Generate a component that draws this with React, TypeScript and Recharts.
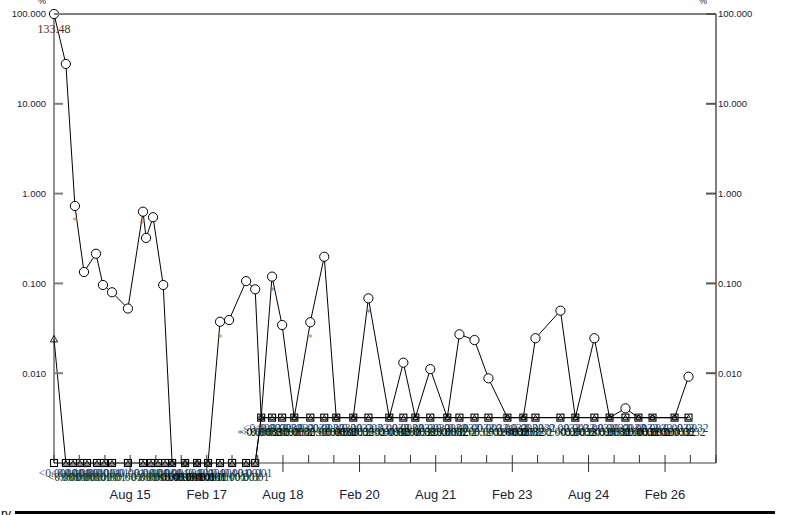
import { ComposedChart, Line, XAxis, YAxis, ReferenceLine } from 'recharts';

// dates of the samples where the square / triangle parameters were measured
const sampleDates = [
  '2014-02-01', '2014-04-27', '2014-06-17', '2014-08-07', '2014-09-26', '2014-12-06', '2015-01-25',
  '2015-03-24', '2015-07-16', '2015-11-01', '2015-12-28', '2016-02-17', '2016-04-08', '2016-05-28',
  '2016-08-29', '2016-11-23', '2017-02-10', '2017-05-07', '2017-08-02', '2017-11-10', '2018-01-14',
  '2018-02-26', '2018-05-15', '2018-07-26', '2018-10-21', '2019-02-13', '2019-05-24', '2019-08-18',
  '2019-12-18', '2020-04-05', '2020-09-02', '2020-12-12', '2021-03-08', '2021-06-23', '2021-10-23',
  '2022-01-18', '2022-05-06', '2022-08-14', '2022-12-28', '2023-04-21', '2023-07-17', '2024-01-12',
  '2024-04-28', '2024-09-12', '2024-12-30', '2025-04-23', '2025-07-25', '2025-11-03', '2026-04-10',
  '2026-07-19',
];

const squareValues: (number | string)[] = [
  '<0.001', '<0.001', '<0.001', '<0.001', '<0.001', '<0.001', '<0.001',
  '<0.001', '<0.001', '<0.001', '<0.001', '<0.001', '<0.001', '<0.001',
  '<0.001', '<0.001', '<0.001', '<0.001', '<0.001', '<0.001', '<0.001',
  '<0.0032', '<0.0032', '<0.0032', '<0.0032', '<0.0032', '<0.0032', '<0.0032',
  '<0.0032', '<0.0032', '<0.0032', '<0.0032', '<0.0032', '<0.0032', '<0.0032',
  '<0.0032', '<0.0032', '<0.0032', '<0.0032', '<0.0032', '<0.0032', '<0.0032',
  '<0.0032', '<0.0032', '<0.0032', '<0.0032', '<0.0032', '<0.0032', '<0.0032',
  '<0.0032',
];

const triangleValues: (number | string)[] = [
  0.024, '<0.001', '<0.001', '<0.001', '<0.001', '<0.001', '<0.001',
  '<0.001', '<0.001', '<0.001', '<0.001', '<0.001', '<0.001', '<0.001',
  '<0.001', '<0.001', '<0.001', '<0.001', '<0.001', '<0.001', '<0.001',
  '<0.0032', '<0.0032', '<0.0032', '<0.0032', '<0.0032', '<0.0032', '<0.0032',
  '<0.0032', '<0.0032', '<0.0032', '<0.0032', '<0.0032', '<0.0032', '<0.0032',
  '<0.0032', '<0.0032', '<0.0032', '<0.0032', '<0.0032', '<0.0032', '<0.0032',
  '<0.0032', '<0.0032', '<0.0032', '<0.0032', '<0.0032', '<0.0032', '<0.0032',
  '<0.0032',
];

const circleDates = [
  '2014-02-01', '2014-04-27', '2014-07-01', '2014-09-04', '2014-11-29', '2015-01-18', '2015-03-24',
  '2015-07-16', '2015-11-01', '2015-11-23', '2016-01-12', '2016-03-25', '2016-05-28', '2016-08-29',
  '2016-11-23', '2017-02-10', '2017-05-07', '2017-07-11', '2017-11-10', '2018-01-14',
  '2018-02-26', '2018-05-15', '2018-07-26', '2018-10-21', '2019-02-13', '2019-05-24', '2019-08-18',
  '2019-12-18', '2020-04-05', '2020-09-02', '2020-12-12', '2021-03-08', '2021-06-23', '2021-10-23',
  '2022-01-18', '2022-05-06', '2022-08-14', '2022-12-28', '2023-04-21', '2023-07-17', '2024-01-12',
  '2024-04-28', '2024-09-12', '2024-12-30', '2025-04-23', '2025-07-25', '2025-11-03', '2026-04-10',
  '2026-07-19',
];

const circleValues: (number | string)[] = [
  133.48, 27.8, 0.728, 0.134, 0.214, 0.096, 0.0796,
  0.0525, 0.629, 0.321, 0.545, 0.096, '<0.001', '<0.001',
  '<0.001', '<0.001', 0.0374, 0.0391, 0.106, 0.0859,
  '<0.0032', 0.119, 0.0344, '<0.0032', 0.0369, 0.198, '<0.0032',
  '<0.0032', 0.0682, '<0.0032', 0.0131, '<0.0032', 0.0111, '<0.0032',
  0.0271, 0.0234, 0.00877, '<0.0032', '<0.0032', 0.0245, 0.0497,
  '<0.0032', 0.0245, '<0.0032', 0.00406, '<0.0032', '<0.0032', '<0.0032',
  0.00914,
];

const orangeStarDates = ['2014-07-01', '2015-10-25', '2017-05-07', '2019-02-13'];
const orangeStarValues = [0.521, 0.471, 0.0253, 0.0253];
const blueStarDates = ['2017-09-28', '2018-05-15', '2020-04-05'];
const blueStarValues = [0.00221, 0.0845, 0.0481];

const yTicks = [0.01, 0.1, 1, 10, 100];
const xLabelDates = ['2015-08-01', '2017-02-01', '2018-08-01', '2020-02-01', '2021-08-01', '2023-02-01', '2024-08-01', '2026-02-01'];
const xLabels = ['Aug 15', 'Feb 17', 'Aug 18', 'Feb 20', 'Aug 21', 'Feb 23', 'Aug 24', 'Feb 26'];

const Y_MIN = 0.001;
const Y_MAX = 100;

function toYear(d: string) {
  const [y, m, day] = d.split('-').map(Number);
  const start = Date.UTC(y, 0, 1);
  const end = Date.UTC(y + 1, 0, 1);
  return y + (Date.UTC(y, m - 1, day) - start) / (end - start);
}

function build(dates: string[], values: (number | string)[]) {
  return dates.map((d, i) => {
    const raw = values[i];
    if (typeof raw === 'string') {
      return { t: toYear(d), v: parseFloat(raw.slice(1)), label: raw, bdl: true, over: '' };
    }
    return { t: toYear(d), v: Math.min(raw, Y_MAX), label: '', bdl: false, over: raw > Y_MAX ? raw.toFixed(2) : '' };
  });
}

const squareData = build(sampleDates, squareValues);
const triangleData = build(sampleDates, triangleValues);
const circleData = build(circleDates, circleValues);
const orangeStars = build(orangeStarDates, orangeStarValues);
const blueStars = build(blueStarDates, blueStarValues);

const xTicks: number[] = [];
for (let y = 2014; y <= 2027; y++) {
  xTicks.push(toYear(`${y}-02-01`));
  if (y < 2027) xTicks.push(toYear(`${y}-08-01`));
}
const xMajor = xLabelDates.map(toYear);

const SANS = 'Liberation Sans, Arial, sans-serif';
const SERIF = 'Liberation Serif, Times New Roman, serif';
const AXIS_TEXT = '#17213a';
const GREY = '#7f7f7f';

const XTick = (p: any) => {
  const { x, y, payload } = p;
  const k = xMajor.findIndex((m) => Math.abs(m - payload.value) < 0.01);
  return (
    <g>
      <line x1={x} x2={x} y1={y - 8} y2={k >= 0 ? y + 9 : y} stroke="#333" strokeWidth={1} />
      {k >= 0 && (
        <text x={x} y={y + 36} textAnchor="middle" fontSize={13} fontFamily={SANS} fill={AXIS_TEXT}>
          {xLabels[k]}
        </text>
      )}
    </g>
  );
};

const YTickLeft = (p: any) => {
  const { x, y, payload } = p;
  return (
    <g>
      <line x1={x} x2={x + 9} y1={y} y2={y} stroke={GREY} strokeWidth={2} />
      <text x={x - 8} y={y} dy="0.35em" textAnchor="end" fontSize={9.5} fontFamily={SANS} fill={AXIS_TEXT}>
        {Number(payload.value).toFixed(3)}
      </text>
    </g>
  );
};

const YTickRight = (p: any) => {
  const { x, y, payload } = p;
  return (
    <g>
      <line x1={x - 10} x2={x} y1={y} y2={y} stroke="#555" strokeWidth={2} />
      <text x={x + 2} y={y} dy="0.35em" textAnchor="start" fontSize={9.5} fontFamily={SANS} fill={AXIS_TEXT}>
        {Number(payload.value).toFixed(3)}
      </text>
    </g>
  );
};

const squareDot = (p: any) => {
  const { cx, cy, payload, index } = p;
  if (cx == null || cy == null) return <g key={`s${index}`} />;
  return (
    <g key={`s${index}`}>
      <rect x={cx - 3.5} y={cy - 3.5} width={7} height={7} fill="none" stroke="#000" strokeWidth={1.1} />
      {payload.label && (
        <text x={cx + 1} y={cy + 14} textAnchor="middle" fontSize={11.5} fontFamily={SERIF} fill="#2c3f78">
          {payload.label}
        </text>
      )}
    </g>
  );
};

const triangleDot = (p: any) => {
  const { cx, cy, payload, index } = p;
  if (cx == null || cy == null) return <g key={`t${index}`} />;
  const s = payload.bdl ? 2.6 : 3.6;
  return (
    <g key={`t${index}`}>
      <path
        d={`M${cx},${cy - s} L${cx - s},${cy + s * 0.8} L${cx + s},${cy + s * 0.8} Z`}
        fill="none"
        stroke="#000"
        strokeWidth={0.9}
      />
      {payload.label && (
        <text x={cx - 2} y={cy + 18} textAnchor="middle" fontSize={11.5} fontFamily={SERIF} fill="#0f4424">
          {payload.label}
        </text>
      )}
    </g>
  );
};

const circleDot = (p: any) => {
  const { cx, cy, payload, index } = p;
  if (cx == null || cy == null) return <g key={`c${index}`} />;
  return (
    <g key={`c${index}`}>
      {payload.bdl ? (
        <circle cx={cx} cy={cy} r={2.4} fill="none" stroke="#000" strokeWidth={0.8} />
      ) : (
        <circle cx={cx} cy={cy} r={4.6} fill="#fff" stroke="#000" strokeWidth={1} />
      )}
      {payload.label && (
        <text x={cx + 2} y={cy + 18} textAnchor="middle" fontSize={11.5} fontFamily={SERIF} fill="#000">
          {payload.label}
        </text>
      )}
      {payload.over && (
        <text x={cx} y={cy + 19} textAnchor="middle" fontSize={12} fontFamily={SERIF} fill="#5a2a14">
          {payload.over}
        </text>
      )}
    </g>
  );
};

const starDot = (color: string) => (p: any) => {
  const { cx, cy, index } = p;
  if (cx == null || cy == null) return <g key={`a${index}`} />;
  return (
    <text key={`a${index}`} x={cx} y={cy + 4.5} textAnchor="middle" fontSize={10} fontFamily={SERIF} fill={color}>
      *
    </text>
  );
};

export default function App() {
  return (
    <div style={{ position: 'absolute', left: 0, top: 0, width: 789, height: 515, background: '#fff' }}>
      <ComposedChart width={789} height={515} margin={{ top: 14, right: 0, bottom: 0, left: 0 }}>
        <XAxis
          type="number"
          dataKey="t"
          domain={[toYear('2014-02-01'), toYear('2027-02-01')]}
          ticks={xTicks}
          interval={0}
          height={52}
          tickSize={0}
          tickMargin={0}
          tickLine={false}
          tick={<XTick />}
          axisLine={{ stroke: GREY, strokeWidth: 1.6 }}
        />
        <YAxis
          yAxisId="l"
          scale="log"
          domain={[Y_MIN, Y_MAX]}
          ticks={yTicks}
          interval={0}
          width={54}
          tickSize={0}
          tickMargin={0}
          tickLine={false}
          tick={<YTickLeft />}
          axisLine={{ stroke: '#222', strokeWidth: 1 }}
        />
        <YAxis
          yAxisId="r"
          orientation="right"
          scale="log"
          domain={[Y_MIN, Y_MAX]}
          ticks={yTicks}
          interval={0}
          allowDataOverflow
          width={73}
          tickSize={0}
          tickMargin={0}
          tickLine={false}
          tick={<YTickRight />}
          axisLine={{ stroke: GREY, strokeWidth: 2 }}
        />
        <ReferenceLine yAxisId="l" y={Y_MAX} stroke={GREY} strokeWidth={2} />
        <Line
          yAxisId="l"
          data={squareData}
          dataKey="v"
          type="linear"
          stroke="#000"
          strokeWidth={1}
          dot={squareDot}
          activeDot={false}
          isAnimationActive={false}
        />
        <Line
          yAxisId="l"
          data={triangleData}
          dataKey="v"
          type="linear"
          stroke="#000"
          strokeWidth={1}
          dot={triangleDot}
          activeDot={false}
          isAnimationActive={false}
        />
        <Line
          yAxisId="l"
          data={orangeStars}
          dataKey="v"
          stroke="none"
          dot={starDot('#d4741c')}
          activeDot={false}
          isAnimationActive={false}
        />
        <Line
          yAxisId="l"
          data={blueStars}
          dataKey="v"
          stroke="none"
          dot={starDot('#3a78c0')}
          activeDot={false}
          isAnimationActive={false}
        />
        <Line
          yAxisId="l"
          data={circleData}
          dataKey="v"
          type="linear"
          stroke="#000"
          strokeWidth={1}
          dot={circleDot}
          activeDot={false}
          isAnimationActive={false}
        />
      </ComposedChart>
      <svg width={789} height={515} style={{ position: 'absolute', left: 0, top: 0, pointerEvents: 'none' }}>
        <text x={42} y={4} textAnchor="middle" fontSize={9} fontFamily={SANS} fill={AXIS_TEXT}>%</text>
        <text x={703} y={4} textAnchor="middle" fontSize={9} fontFamily={SANS} fill={AXIS_TEXT}>%</text>
        <text x={11} y={518} textAnchor="end" fontSize={12} fontFamily={SANS} fill="#000">ry</text>
        <line x1={15} x2={775} y1={512.5} y2={512.5} stroke="#000" strokeWidth={3} />
      </svg>
    </div>
  );
}
